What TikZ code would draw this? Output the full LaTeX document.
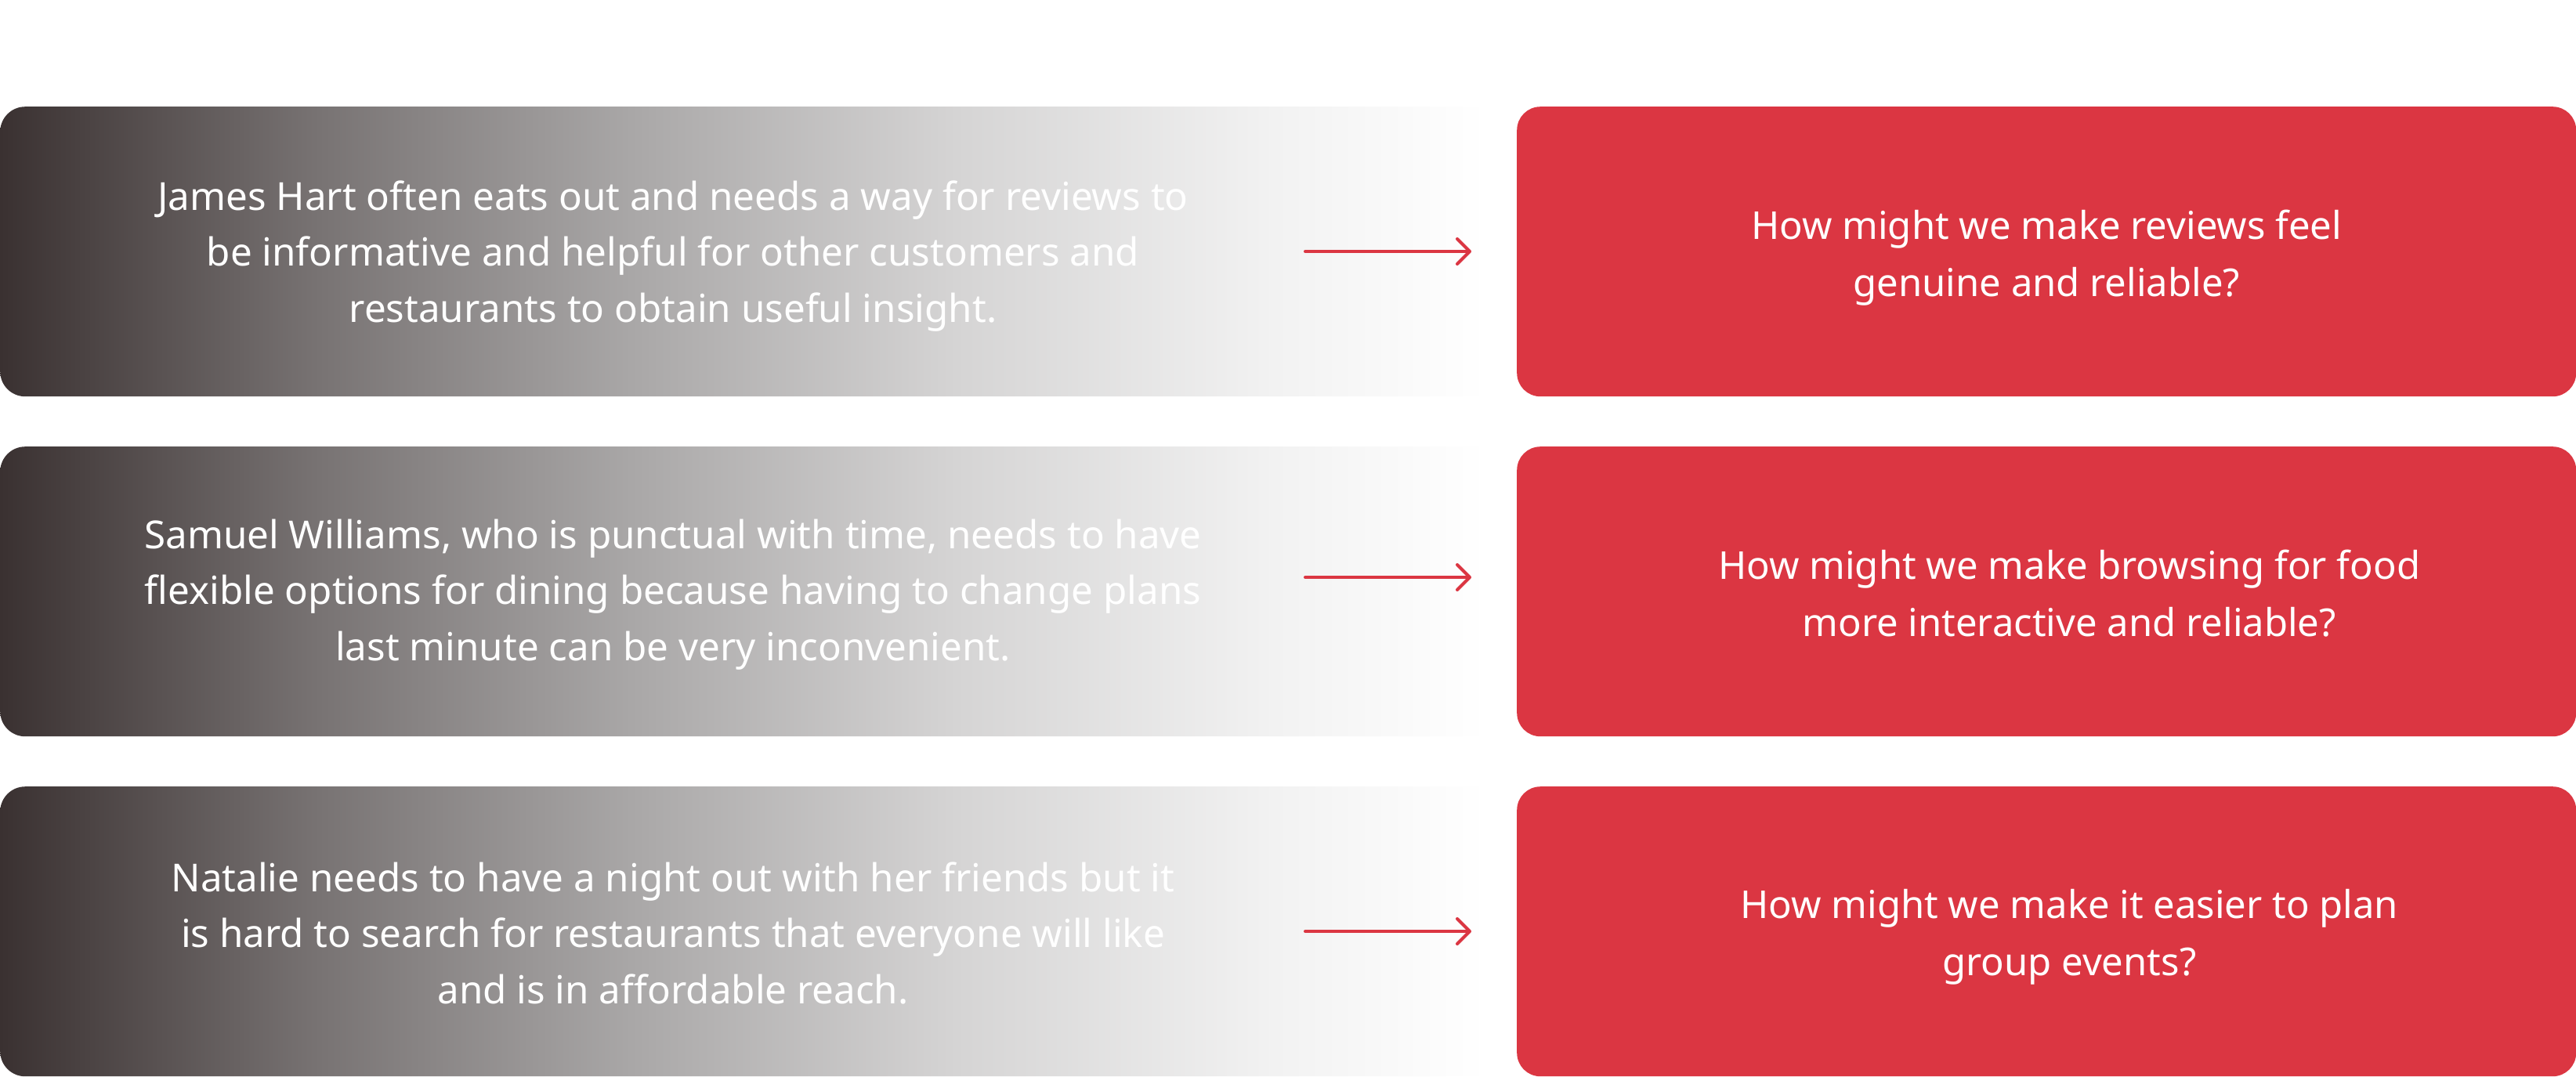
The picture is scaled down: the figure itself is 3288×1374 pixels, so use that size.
\documentclass[tikz,border=0pt]{standalone}
\usepackage{fontspec}
\setmainfont{Noto Sans}
\usetikzlibrary{arrows.meta}
\definecolor{qred}{RGB}{219,54,66}
\definecolor{g0}{RGB}{58,49,49}
\definecolor{g1}{RGB}{120,115,115}
\definecolor{g2}{RGB}{170,168,168}
\definecolor{g3}{RGB}{213,212,212}
\definecolor{g4}{RGB}{242,242,242}
\definecolor{g5}{RGB}{255,255,255}
\pgfdeclarehorizontalshading{fadeshade}{100bp}{color(0bp)=(g0); color(25bp)=(g0); color(35.5bp)=(g1); color(46bp)=(g2); color(56.5bp)=(g3); color(67bp)=(g4); color(74bp)=(g5); color(100bp)=(g5)}
\tikzset{
  probbox/.style={shade, shading=fadeshade, rounded corners=32pt, minimum width=1936pt, minimum height=370pt, inner sep=0pt, anchor=north west},
  hmwbox/.style={fill=qred, rounded corners=30pt, minimum width=1352pt, minimum height=370pt, inner sep=0pt, anchor=north west},
  lefttext/.style={text=white, align=center, font=\fontsize{49.3}{71.5}\selectfont},
  righttext/.style={text=white, align=center, font=\fontsize{49}{73}\selectfont},
  flow/.style={draw=qred, line width=4pt, line cap=round, -{Straight Barb[length=16pt, width=32pt, line width=4pt, round]}}
}
\begin{document}
\begin{tikzpicture}[x=1pt,y=-1pt]
\useasboundingbox (0,0) rectangle (3288,1374);
% row 1
\node[probbox] (p1) at (0,136) {};
\node[hmwbox] (h1) at (1936,136) {};
\node[lefttext] (t1) at (859,327) {James Hart often eats out and needs a way for reviews to\\be informative and helpful for other customers and\\restaurants to obtain useful insight.};
\node[righttext] (r1) at ([yshift=-8pt]h1.center) {How might we make reviews feel\\genuine and reliable?};
\coordinate (a1s) at (1666,321);
\coordinate (a1e) at (1878,321);
\draw[flow] (a1s) -- (a1e);
% row 2
\node[probbox] (p2) at (0,570) {};
\node[hmwbox] (h2) at (1936,570) {};
\node[lefttext] (t2) at (859,759) {Samuel Williams, who is punctual with time, needs to have\\flexible options for dining because having to change plans\\last minute can be very inconvenient.};
\node[righttext] (r2) at ([xshift=29pt,yshift=-2pt]h2.center) {How might we make browsing for food\\more interactive and reliable?};
\coordinate (a2s) at (1666,737);
\coordinate (a2e) at (1878,737);
\draw[flow] (a2s) -- (a2e);
% row 3
\node[probbox] (p3) at (0,1004) {};
\node[hmwbox] (h3) at (1936,1004) {};
\node[lefttext] (t3) at (859,1191) {Natalie needs to have a night out with her friends but it\\is hard to search for restaurants that everyone will like\\and is in affordable reach.};
\node[righttext] (r3) at ([xshift=29pt,yshift=-7pt]h3.center) {How might we make it easier to plan\\group events?};
\coordinate (a3s) at (1666,1189);
\coordinate (a3e) at (1878,1189);
\draw[flow] (a3s) -- (a3e);
\end{tikzpicture}
\end{document}
